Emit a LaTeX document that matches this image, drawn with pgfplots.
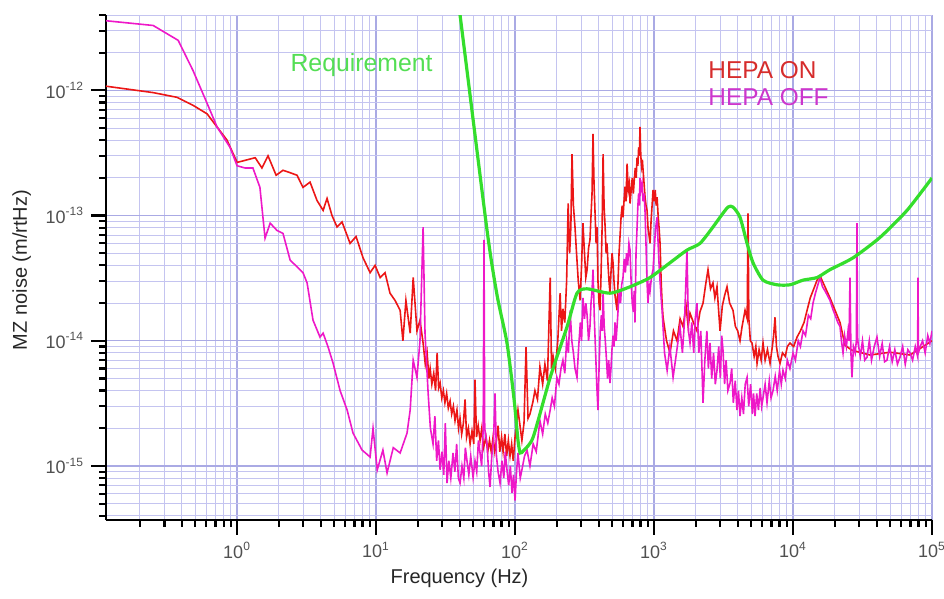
\documentclass[border=0pt]{standalone}
\usepackage{fontspec}
\setmainfont{Liberation Sans}
\usepackage{pgfplots}
\pgfplotsset{compat=1.18}
\definecolor{gridc}{RGB}{170,170,228}
\definecolor{gridm}{RGB}{196,196,240}
\definecolor{redc}{RGB}{236,22,22}
\definecolor{magc}{RGB}{238,24,200}
\definecolor{grnc}{RGB}{52,222,44}
\definecolor{reqtxt}{RGB}{84,222,84}
\definecolor{ontxt}{RGB}{214,44,44}
\definecolor{offtxt}{RGB}{204,54,204}
\definecolor{ticktxt}{RGB}{80,80,80}
\begin{document}
\begin{tikzpicture}
\begin{axis}[
  name=ax, at={(0,0)}, anchor=south west,
  scale only axis, width=413pt, height=252.5pt,
  xmode=log, ymode=log, log basis x=10, log basis y=10,
  xmin=0.114, xmax=1e5, ymin=3.7e-16, ymax=4e-12,
  axis x line*=bottom, axis y line*=left,
  axis line style={line width=1.3pt, black},
  tick align=outside,
  major tick length=7.5pt, minor tick length=3.5pt,
  every tick/.style={black, line width=1.1pt},
  xtick={1,10,100,1000,10000,100000},
  ytick={1e-15,1e-14,1e-13,1e-12},
  minor xtick={0.2,0.3,0.4,0.5,0.6,0.7,0.8,0.9,2,3,4,5,6,7,8,9,20,30,40,50,60,70,80,90,200,300,400,500,600,700,800,900,2000,3000,4000,5000,6000,7000,8000,9000,20000,30000,40000,50000,60000,70000,80000,90000},
  minor ytick={4e-16,5e-16,6e-16,7e-16,8e-16,9e-16,2e-15,3e-15,4e-15,5e-15,6e-15,7e-15,8e-15,9e-15,2e-14,3e-14,4e-14,5e-14,6e-14,7e-14,8e-14,9e-14,2e-13,3e-13,4e-13,5e-13,6e-13,7e-13,8e-13,9e-13,2e-12,3e-12,4e-12},
  grid=both,
  major grid style={gridc, line width=0.65pt},
  minor grid style={gridm, line width=0.45pt},
  xticklabel={10\textsuperscript{\pgfmathparse{int(round(\tick))}\pgfmathresult}},
  yticklabel={10\textsuperscript{\pgfmathparse{int(round(\tick))}\pgfmathresult}},
  ticklabel style={font=\fontsize{9}{10}\selectfont, text=ticktxt},
  xlabel={Frequency (Hz)},
  ylabel={MZ noise (m/rtHz)},
  label style={font=\fontsize{10}{12}\selectfont, text=black!85},
  xlabel style={at={(axis description cs:0.428,-0.115)}, anchor=center},
  ylabel style={at={(axis description cs:-0.102,0.495)}, anchor=center, rotate=0},
  clip=true,
]
% HEPA ON
\addplot[redc, line width=0.8pt] coordinates {
(0.114,1.08e-12)(0.249,9.6e-13)(0.370,8.8e-13)(0.482,7.6e-13)(0.608,6.5e-13)(0.718,5.1e-13)(0.847,4.0e-13)
(1.0,2.66e-13)(1.14,2.76e-13)(1.35,2.9e-13)(1.51,2.4e-13)(1.67,3.0e-13)(1.91,2.1e-13)(2.14,2.3e-13)
(2.41,2.2e-13)(2.70,2.1e-13)(2.98,1.68e-13)(3.35,1.85e-13)(3.76,1.32e-13)(4.16,1.1e-13)(4.44,1.37e-13)
(4.82,1.0e-13)(5.24,8.1e-14)(5.69,8.9e-14)(6.50,6.0e-14)(7.18,6.8e-14)(8.06,4.6e-14)(9.06,3.5e-14)
(9.84,4.0e-14)(10.7,3.2e-14)(11.6,3.5e-14)(12.6,2.4e-14)(13.7,2.1e-14)(14.9,1.75e-14)(15.6,1.0e-14)
(16.4,2.1e-14)(17.6,1.15e-14)(18.5,3.2e-14)(19.7,1.2e-14)(20.7,1.46e-14)
(21.8,9.6e-15)(22.6,6.5e-15)(23.3,8.0e-15)(24.0,5.0e-15)(24.5,6.0e-15)(25.2,4.5e-15)(26.0,5.5e-15)
(26.8,4.0e-15)(27.5,8.0e-15)(28.2,4.2e-15)(28.9,4.6e-15)(29.7,3.5e-15)(30.5,4.0e-15)(31.3,3.2e-15)
(32.2,3.8e-15)(33.1,2.9e-15)(34.1,3.3e-15)(35.0,2.6e-15)(36.0,3.0e-15)(37.0,2.3e-15)(38.2,2.8e-15)
(39.2,2.0e-15)(40.2,2.4e-15)(41.3,1.8e-15)(42.5,2.2e-15)(43.7,3.4e-15)(44.8,1.7e-15)(46.2,2.0e-15)
(47.5,1.5e-15)(49.0,1.9e-15)(50.5,1.5e-15)(51.5,4.9e-15)(52.8,1.7e-15)(54.3,2.1e-15)(56.0,1.6e-15)
(57.6,2.0e-15)(59.3,1.4e-15)(61.8,1.7e-15)(63.6,1.3e-15)(65.5,1.6e-15)(67.4,1.3e-15)(69.5,1.7e-15)
(71.5,1.3e-15)(73.5,1.6e-15)(75.5,2.1e-15)(77.7,1.3e-15)(80.0,1.7e-15)(82.0,1.3e-15)(84.5,1.8e-15)
(87.0,1.2e-15)(89.5,1.6e-15)(92.0,1.2e-15)(94.5,1.5e-15)(97.0,1.1e-15)(100,1.7e-15)
(105,2.8e-15)(112,1.6e-15)(116,2.2e-15)(120,8.9e-15)(124,2.4e-15)(128,2.6e-15)(134,3.2e-15)(139,4.0e-15)(145,3.4e-15)
(151,6.2e-15)(158,4.5e-15)(164,6.5e-15)(171,4.8e-15)(179,3.2e-14)(183,6.0e-15)(188,7.5e-15)(195,6.0e-15)
(203,1.0e-14)(211,2.4e-14)(216,1.2e-14)(221,1.8e-14)(228,1.4e-14)(235,3.0e-14)(241,1.25e-13)(247,5.0e-14)
(252,8.0e-14)(257,3.1e-13)(263,1.2e-13)(270,8.1e-14)(277,5.0e-14)(285,3.0e-14)(294,2.1e-14)(301,4.0e-14)
(308,8.7e-14)(316,5.0e-14)(323,3.2e-14)(330,3.7e-14)(338,5.5e-14)(346,6.4e-14)(352,1.0e-13)(358,1.5e-13)
(364,4.5e-13)(370,1.8e-13)(377,1.0e-13)(383,6.0e-14)(389,8.1e-14)(395,3.0e-14)(402,2.0e-14)(409,1.75e-14)
(416,3.5e-14)(423,8.0e-14)(430,3.1e-13)(437,1.2e-13)(445,8.0e-14)(452,5.0e-14)(459,6.0e-14)(467,4.0e-14)
(474,3.0e-14)(482,2.4e-14)(490,3.5e-14)(499,5.0e-14)(507,4.2e-14)(515,3.0e-14)(524,2.3e-14)(533,2.0e-14)
(542,1.75e-14)(551,3.0e-14)(560,5.0e-14)(570,7.0e-14)(580,1.0e-13)(590,1.2e-13)(598,9.7e-14)(608,1.3e-13)
(618,1.7e-13)(628,1.3e-13)(640,2.6e-13)(652,1.6e-13)(664,1.8e-13)(672,1.25e-13)(685,1.6e-13)(697,2.0e-13)
(710,1.5e-13)(720,1.9e-13)(733,2.4e-13)(744,2.0e-13)(755,2.9e-13)(765,2.5e-13)(775,3.5e-13)(784,3.0e-13)
(793,5.1e-13)(803,3.0e-13)(813,2.5e-13)(824,2.8e-13)(834,2.3e-13)(848,1.8e-13)(862,1.4e-13)(876,1.2e-13)
(891,1.1e-13)(905,8.0e-14)(920,7.0e-14)(936,6.0e-14)(952,9.0e-14)(968,1.2e-13)(984,1.6e-13)(1000,1.3e-13)
(1020,1.6e-13)(1036,1.2e-13)(1052,1.4e-13)(1070,1.0e-13)(1087,8.0e-14)(1105,6.0e-14)(1125,3.0e-14)(1143,2.0e-14)
(1161,1.54e-14)(1230,1.0e-14)(1303,8.0e-15)(1380,1.2e-14)(1463,1.0e-14)(1540,1.5e-14)(1617,1.3e-14)(1700,1.9e-14)
(1760,1.3e-14)(1815,1.66e-14)(1920,1.4e-14)(2037,1.2e-14)(2140,1.7e-14)(2252,2.0e-14)(2350,2.8e-14)(2445,3.7e-14)
(2550,2.6e-14)(2655,2.9e-14)(2740,2.2e-14)(2838,2.7e-14)(2910,1.8e-14)(2985,1.2e-14)(3100,1.9e-14)(3220,2.3e-14)
(3350,2.7e-14)(3500,2.0e-14)(3700,1.75e-14)(3850,1.3e-14)(4000,1.2e-14)(4155,1.0e-14)(4300,1.3e-14)(4515,1.75e-14)
(4680,1.5e-14)(4745,1.04e-13)(4810,1.5e-14)(4930,1.0e-14)(5070,9.6e-15)(5250,7.5e-15)(5400,9.0e-15)(5510,6.6e-15)
(5700,8.5e-15)(5900,7.0e-15)(6085,9.6e-15)(6300,7.0e-15)(6550,8.5e-15)(6835,6.6e-15)(7100,9.0e-15)(7250,1.1e-14)
(7425,1.54e-14)(7600,9.0e-15)(7800,7.5e-15)(8060,6.6e-15)(8400,8.0e-15)(8800,7.5e-15)(9100,9.0e-15)(9510,9.6e-15)
(10100,9.0e-15)(10690,1.07e-14)(11300,1.2e-14)(12000,1.4e-14)(12620,1.75e-14)(13300,2.2e-14)(14100,2.6e-14)
(14890,3.05e-14)(15640,3.3e-14)(18450,2.2e-14)(21780,1.4e-14)(23660,9.2e-15)
(26550,8.4e-15)(35810,7.7e-15)(49890,8.1e-15)(69500,7.7e-15)(100000,1.0e-14)
};
% HEPA OFF
\addplot[magc, line width=0.8pt] coordinates {
(0.114,3.6e-12)(0.249,3.3e-12)(0.377,2.51e-12)(0.482,1.44e-12)(0.608,7.9e-13)(0.718,5.1e-13)(0.891,3.5e-13)
(1.0,2.5e-13)(1.14,2.4e-13)(1.30,2.4e-13)(1.46,1.68e-13)(1.59,6.6e-14)(1.73,8.7e-14)(1.94,7.6e-14)
(2.14,7.2e-14)(2.41,4.4e-14)(2.70,3.9e-14)(2.98,3.5e-14)(3.19,2.9e-14)(3.52,1.46e-14)(3.95,1.07e-14)
(4.16,1.15e-14)(4.52,8.9e-15)(4.91,6.6e-15)(5.51,4.0e-15)(6.19,2.8e-15)(6.83,1.83e-15)(7.93,1.34e-15)
(9.06,1.18e-15)(9.51,2.0e-15)(10.2,9.3e-16)(11.2,1.34e-15)(12.0,8.8e-16)(13.3,1.4e-15)(14.9,1.27e-15)
(16.7,1.83e-15)(17.6,2.8e-15)(18.5,7.0e-15)(19.7,5.1e-15)(20.7,1.0e-14)(21.8,8.1e-14)(22.5,1.15e-14)
(23.7,3.8e-15)(24.6,2.0e-15)(25.7,1.5e-15)(26.5,2.5e-15)(27.3,1.1e-15)(28.1,1.6e-15)(28.9,9.3e-16)
(29.8,1.3e-15)(30.7,8.5e-16)(31.5,2.2e-15)(32.4,7.3e-16)(33.4,1.1e-15)(34.5,8.0e-16)(35.8,1.27e-15)
(36.9,9.0e-16)(38.0,1.5e-15)(39.1,8.0e-16)(40.2,7.3e-16)(41.5,1.0e-15)(42.8,8.0e-16)(43.9,1.4e-15)
(45.1,1.1e-15)(46.5,8.5e-16)(48.0,1.2e-15)(49.9,8.1e-16)(51.5,1.1e-15)(53.0,9.0e-16)(54.5,1.6e-15)
(56.0,1.27e-15)(57.5,1.0e-15)(59.0,2.0e-15)(59.8,6.4e-14)(60.5,2.0e-15)(62.9,1.5e-15)(64.5,9.0e-16)
(66.1,6.8e-16)(68.0,1.2e-15)(70.0,1.6e-15)(71.8,3.8e-15)(73.5,1.2e-15)(75.5,9.0e-16)(78.0,7.3e-16)
(80.5,1.1e-15)(83.0,8.0e-16)(85.0,1.3e-15)(87.5,9.3e-16)(90.0,7.0e-16)(92.5,1.0e-15)(95.1,6.1e-16)
(97.5,8.5e-16)(100,5.3e-16)(102.5,9.0e-16)
(105,1.27e-15)(109,8.0e-16)(112,9.3e-16)(117,1.2e-15)(122,1.34e-15)(128,1.0e-15)(135,1.5e-15)(142,1.3e-15)
(151,2.3e-15)(158,1.8e-15)(165,2.6e-15)(172,2.2e-15)(179,2.8e-15)(185,3.5e-15)(192,3.0e-15)(200,5.1e-15)
(207,4.5e-15)(214,6.0e-15)(221,7.0e-15)(228,5.5e-15)(235,1.0e-14)(242,8.0e-15)(249,1.75e-14)(256,1.0e-14)
(263,8.0e-15)(270,6.0e-15)(279,5.1e-15)(287,9.0e-15)(295,1.4e-14)(301,1.0e-14)(308,2.2e-14)(316,1.5e-14)
(323,2.0e-14)(330,1.6e-14)(338,1.0e-14)(346,1.3e-14)(352,2.0e-14)(358,2.5e-14)(364,3.7e-14)(372,1.5e-14)
(380,8.0e-15)(387,4.5e-15)(395,2.8e-15)(402,6.0e-15)(410,1.2e-14)(418,1.6e-14)(424,1.2e-14)(430,2.4e-14)
(438,1.3e-14)(446,1.0e-14)(455,7.0e-15)(463,5.0e-15)(472,7.0e-15)(482,4.6e-15)(490,6.0e-15)(498,8.5e-15)
(507,1.1e-14)(515,9.0e-15)(524,1.4e-14)(533,1.0e-14)(542,1.3e-14)(552,1.8e-14)(562,2.5e-14)(574,2.0e-14)
(585,2.8e-14)(598,3.2e-14)(610,4.5e-14)(622,3.5e-14)(634,5.0e-14)(646,4.0e-14)(660,6.0e-14)(672,5.3e-14)
(684,3.0e-14)(697,2.0e-14)(710,1.7e-14)(720,2.5e-14)(730,1.4e-14)(742,5.0e-14)(755,8.0e-14)(765,1.2e-13)
(775,1.5e-13)(785,1.2e-13)(793,2.0e-13)(805,1.6e-13)(820,1.8e-13)(834,1.3e-13)(848,1.5e-13)(861,1.1e-13)
(875,6.0e-14)(890,3.0e-14)(905,2.0e-14)(920,2.8e-14)(936,2.5e-14)(952,3.0e-14)(968,3.4e-14)(984,3.7e-14)
(1000,5.0e-14)(1018,7.0e-14)(1035,8.5e-14)(1052,9.7e-14)(1070,6.0e-14)(1088,4.0e-14)(1105,3.0e-14)(1125,2.2e-14)
(1143,1.75e-14)(1190,8.0e-15)(1242,5.8e-15)(1300,9.0e-15)(1371,5.1e-15)(1450,8.0e-15)(1538,1.3e-14)(1600,8.0e-15)
(1660,1.5e-14)(1726,5.3e-14)(1770,1.2e-14)(1815,9.6e-15)(1870,1.4e-14)(1930,8.0e-15)(1980,1.5e-14)(2037,2.0e-14)
(2100,8.0e-15)(2170,1.2e-14)(2252,3.2e-15)(2320,7.0e-15)(2400,1.2e-14)(2460,6.0e-15)(2529,9.6e-15)(2600,5.0e-15)
(2680,8.0e-15)(2760,4.5e-15)(2838,5.8e-15)(2920,9.0e-15)(3000,5.0e-15)(3070,1.1e-14)(3135,8.4e-15)(3220,4.5e-15)
(3300,7.0e-15)(3400,4.0e-15)(3524,4.6e-15)(3620,6.0e-15)(3720,3.2e-15)(3840,4.8e-15)(3950,2.8e-15)(4050,4.0e-15)
(4155,2.5e-15)(4280,3.5e-15)(4400,2.6e-15)(4530,4.5e-15)(4670,5.1e-15)(4800,3.0e-15)(4950,4.5e-15)(5100,2.6e-15)
(5200,3.8e-15)(5330,2.5e-15)(5480,3.8e-15)(5640,2.8e-15)(5800,4.2e-15)(5950,3.0e-15)(6085,3.5e-15)(6300,4.5e-15)
(6500,3.2e-15)(6750,4.8e-15)(6950,3.5e-15)(7180,4.0e-15)(7450,5.2e-15)(7700,4.0e-15)(8000,5.8e-15)(8230,4.5e-15)
(8470,5.8e-15)(8800,5.0e-15)(9100,7.0e-15)(9500,6.0e-15)(10000,8.0e-15)(10400,7.0e-15)(10900,1.0e-14)(11300,9.0e-15)
(11800,1.2e-14)(12300,1.1e-14)(12900,1.6e-14)(13400,1.5e-14)(13930,2.0e-14)(14500,2.4e-14)(15100,2.8e-14)
(15640,3.2e-14)(16300,2.7e-14)(16990,2.5e-14)(17700,2.3e-14)(18450,2.1e-14)(19300,1.8e-14)(20100,1.6e-14)
(21000,1.4e-14)(21780,1.3e-14)(22300,1.0e-14)(22900,8.0e-15)(23500,1.1e-14)(24200,9.0e-15)(24880,1.2e-14)
(25300,1.0e-14)(25700,3.2e-14)(26100,8.0e-15)(26550,5.1e-15)(27200,9.0e-15)(28000,8.0e-15)(28550,1.0e-14)
(28850,8.7e-14)(29100,1.1e-14)(29360,9.6e-15)(30500,7.5e-15)(31600,1.0e-14)(32800,7.0e-15)(34080,7.4e-15)
(35400,1.0e-14)(36700,7.0e-15)(38400,9.0e-15)(40180,1.07e-14)(42000,7.5e-15)(43800,9.5e-15)(45600,6.8e-15)
(47420,7.0e-15)(49500,9.0e-15)(51700,6.8e-15)(54000,8.5e-15)(56400,6.5e-15)(58880,7.4e-15)(61500,9.0e-15)
(64200,6.5e-15)(67000,8.5e-15)(69500,8.0e-15)(72500,7.0e-15)(75800,9.0e-15)(78800,7.5e-15)(79300,3.2e-14)
(79800,8.0e-15)(82000,8.9e-15)(85500,1.0e-14)(89300,8.0e-15)(93200,1.1e-14)(96500,9.5e-15)(100000,1.2e-14)
};
% Requirement
\addplot[grnc, line width=1.6pt, smooth, tension=0.4] coordinates {
(37.0,7.5e-12)(40.2,4.0e-12)(62.9,7.6e-14)(74.3,2.3e-14)(87.5,9.6e-15)(98.4,3.4e-15)(105,1.6e-15)
(109,1.27e-15)(116,1.34e-15)(135,1.7e-15)(179,5.1e-15)(237,1.3e-14)(279,2.4e-14)(330,2.6e-14)
(482,2.4e-14)(672,2.7e-14)(936,3.2e-14)(1303,4.2e-14)(1726,5.3e-14)(2143,6.0e-14)(2655,8.1e-14)
(2985,9.7e-14)(3405,1.17e-13)(3700,1.17e-13)(4155,9.7e-14)(4670,6.0e-14)(5155,4.2e-14)(6085,3.05e-14)
(7670,2.8e-14)(9510,2.8e-14)(11800,3.05e-14)(14890,3.2e-14)(18450,3.7e-14)(27040,4.6e-14)
(42270,6.7e-14)(66070,1.1e-13)(100000,2.0e-13)
};
\node[anchor=west, text=reqtxt, font=\fontsize{12.4}{14}\selectfont, inner sep=0pt] at (axis cs:2.41,1.58e-12) {Requirement};
\node[anchor=west, text=ontxt, font=\fontsize{12.2}{14}\selectfont, inner sep=0pt] at (axis cs:2445,1.44e-12) {HEPA ON};
\node[anchor=west, text=offtxt, font=\fontsize{12.2}{14}\selectfont, inner sep=0pt] at (axis cs:2445,8.8e-13) {HEPA OFF};
\end{axis}
\pgfresetboundingbox
\path[use as bounding box] ([xshift=-53pt,yshift=-39pt]ax.south west) rectangle ([xshift=6pt,yshift=7.5pt]ax.north east);
\end{tikzpicture}
\end{document}
